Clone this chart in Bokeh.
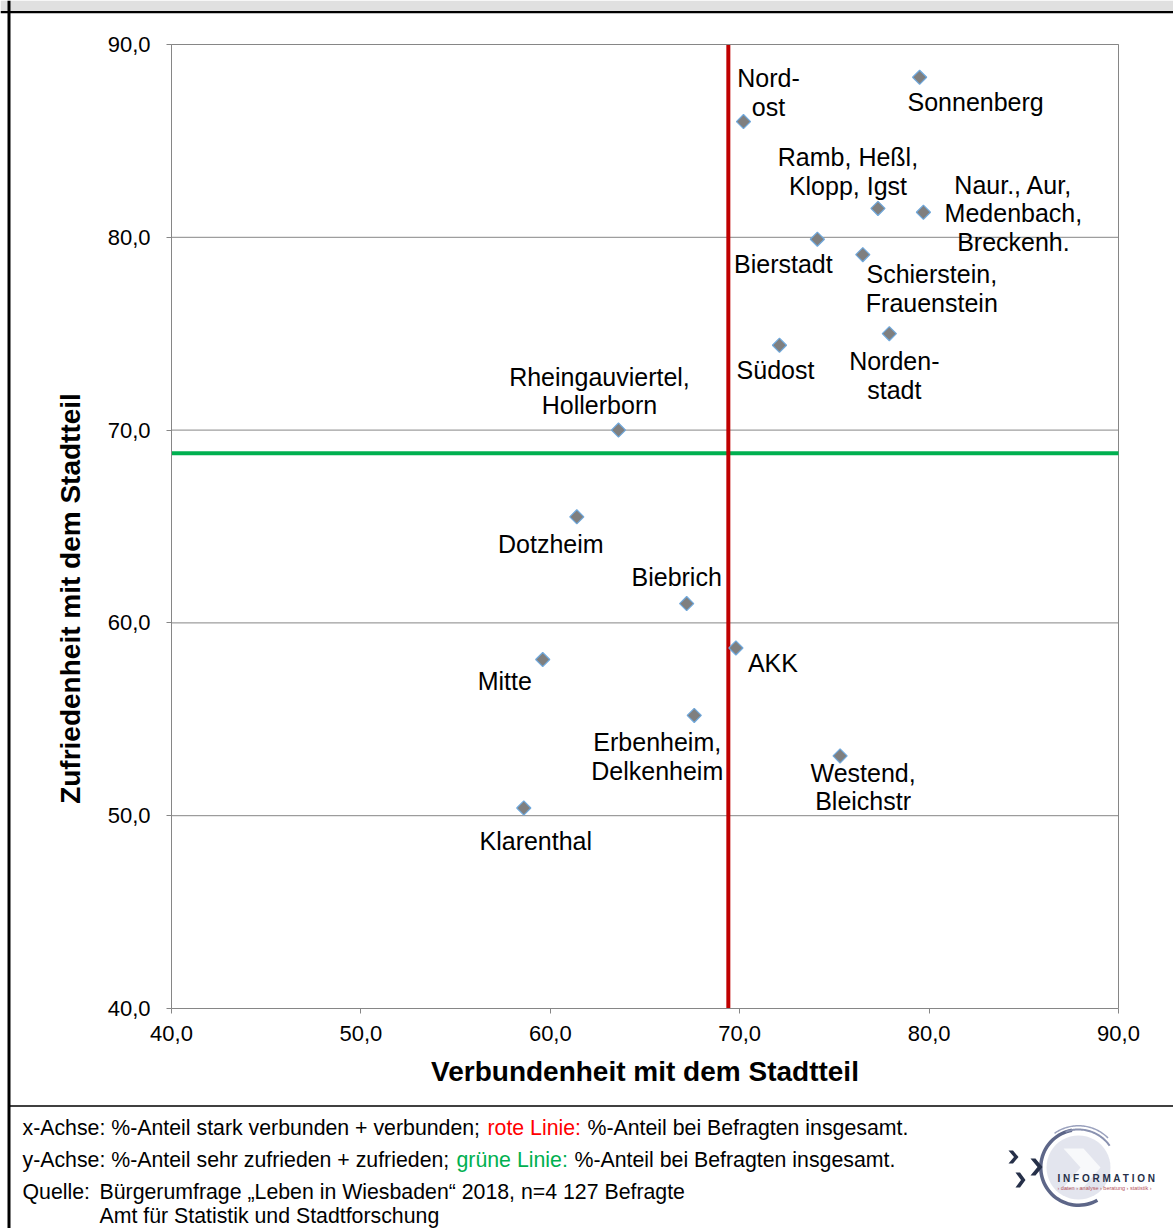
import math
from bokeh.plotting import figure
from bokeh.models import (Range1d, FixedTicker, CustomJSTickFormatter, ColumnDataSource, LinearAxis)
from bokeh.embed import file_html
from bokeh.resources import INLINE
from bokeh.core.properties import value

# ---------------- data ----------------
districts = [
    "Sonnenberg", "Nord-\nost", "Ramb, Heßl,\nKlopp, Igst", "Naur., Aur,\nMedenbach,\nBreckenh.",
    "Bierstadt", "Schierstein,\nFrauenstein", "Norden-\nstadt", "Südost",
    "Rheingauviertel,\nHollerborn", "Dotzheim", "Biebrich", "AKK", "Mitte",
    "Erbenheim,\nDelkenheim", "Westend,\nBleichstr", "Klarenthal",
]
verbundenheit = [79.5, 70.2, 77.3, 79.7, 74.1, 76.5, 77.9, 72.1, 63.6, 61.4, 67.2, 69.8, 59.6, 67.6, 75.3, 58.6]
zufriedenheit = [88.3, 86.0, 81.5, 81.3, 79.9, 79.1, 75.0, 74.4, 70.0, 65.5, 61.0, 58.7, 58.1, 55.2, 53.1, 50.4]
avg_verbundenheit = 69.4
avg_zufriedenheit = 68.8
axis_ticks = [40, 50, 60, 70, 80, 90]

# label placement (screen px offsets from the point; positive dy = down)
label_dx = [56, 25, -30, 90, -34, 69, 5, -4, -19, -26, -10, 37, -38, -37, 23, 12]
label_dy = [25, -29, -37, 1, 25, 34, 42, 25, -39, 27, -27, 15, 21, 41, 31, 33]

x_title = "Verbundenheit mit dem Stadtteil"
y_title = "Zufriedenheit mit dem Stadtteil"
note_x = ["x-Achse: %-Anteil stark verbunden + verbunden;", "rote Linie:", "%-Anteil bei Befragten insgesamt."]
note_y = ["y-Achse: %-Anteil sehr zufrieden + zufrieden;", "grüne Linie:", "%-Anteil bei Befragten insgesamt."]
source_lines = ["Quelle:", "Bürgerumfrage „Leben in Wiesbaden“ 2018, n=4 127 Befragte",
                "Amt für Statistik und Stadtforschung"]

FONT = "Liberation Sans"
W, H = 1173, 1228
FL, FR, FT, FB = 171, 1118, 44, 1008   # plot-area edges in page pixels
XMIN, XMAX, YMIN, YMAX = axis_ticks[0], axis_ticks[-1], axis_ticks[0], axis_ticks[-1]

# data ranges stretched so that 40..90 lands on the plot area while the frame fills the canvas
kx = (XMAX - XMIN) / (FR - FL)
ky = (YMAX - YMIN) / (FB - FT)
x_rng = Range1d(XMIN - FL * kx, XMAX + (W - FR) * kx)
y_rng = Range1d(YMIN - (H - FB) * ky, YMAX + FT * ky)

p = figure(width=W, height=H, x_range=x_rng, y_range=y_rng,
           toolbar_location=None, output_backend="svg", min_border=0,
           x_axis_type=None, y_axis_type=None)
p.extra_x_ranges = {"px": Range1d(0, W)}
p.extra_y_ranges = {"px": Range1d(H, 0)}
p.background_fill_color = "white"
p.border_fill_color = "white"
p.outline_line_color = None

GREY = "#868686"

# grid lines and plot-area outline (from tick values)
inner = axis_ticks[1:]
p.segment(x0=[XMIN] * len(inner), x1=[XMAX] * len(inner), y0=inner, y1=inner,
          line_color=GREY, line_width=1)
p.segment(x0=[XMAX], x1=[XMAX], y0=[YMIN], y1=[YMAX], line_color=GREY, line_width=1)

# average lines
p.segment(x0=[XMIN], x1=[XMAX], y0=[avg_zufriedenheit], y1=[avg_zufriedenheit],
          line_color="#00b050", line_width=4)
p.segment(x0=[avg_verbundenheit], x1=[avg_verbundenheit], y0=[YMIN], y1=[YMAX],
          line_color="#c00000", line_width=4)

fmt = CustomJSTickFormatter(code="return tick.toFixed(1).replace('.', ',');")

def style_axis(ax):
    ax.axis_line_color = GREY
    ax.axis_line_width = 1
    ax.major_tick_line_color = GREY
    ax.major_tick_in = 0
    ax.major_tick_out = 5
    ax.minor_tick_line_color = None
    ax.major_label_text_font = FONT
    ax.major_label_text_font_size = "22px"
    ax.major_label_text_color = "black"
    ax.axis_label_text_font = FONT
    ax.axis_label_text_font_size = "28px"
    ax.axis_label_text_font_style = "bold"
    ax.axis_label_text_color = "black"

xaxis = LinearAxis(fixed_location=YMIN, bounds=(XMIN, XMAX), ticker=FixedTicker(ticks=axis_ticks),
                   formatter=fmt, axis_label=x_title, major_label_standoff=12, axis_label_standoff=12)
style_axis(xaxis)
p.add_layout(xaxis, "below")

yaxis = LinearAxis(fixed_location=XMIN, bounds=(YMIN, YMAX), ticker=FixedTicker(ticks=axis_ticks),
                   formatter=fmt, major_label_standoff=16)
style_axis(yaxis)
p.add_layout(yaxis, "left")

topaxis = LinearAxis(fixed_location=YMAX, bounds=(XMIN, XMAX), ticker=FixedTicker(ticks=[]))
style_axis(topaxis)
p.add_layout(topaxis, "above")

# y-axis title
p.text(x=[70], y=[598], text=[y_title], angle=math.pi / 2, x_range_name="px", y_range_name="px",
       text_font=value(FONT), text_font_size="28px", text_font_style="bold", text_color="black",
       text_align="center", text_baseline="middle")

# points and labels
src = ColumnDataSource(dict(x=verbundenheit, y=zufriedenheit, name=districts, dx=label_dx, dy=label_dy))
p.scatter(x="x", y="y", source=src, marker="square", size=10, angle=0.7853981634,
          fill_color="#7f7f7f", line_color="#6fa8dc", line_width=1.2)
p.text(x="x", y="y", text="name", x_offset="dx", y_offset="dy", source=src,
       text_font=value(FONT), text_font_size="25px", text_color="black",
       text_align="center", text_baseline="middle", text_line_height=1.02)

# ---------------- page decorations (page pixel coordinates) ----------------
PX = dict(x_range_name="px", y_range_name="px")

p.quad(left=[0, 0, 7, 8], right=[W, W, 10, W], top=[0, 10.5, 0, 1104.8], bottom=[10.5, 12.8, H, 1106.3],
       fill_color=["#e0e0e0", "black", "black", "black"], line_color=None, **PX)

ft = dict(text_font=value(FONT), text_font_size="21.3px", text_baseline="middle", text_align="left", **PX)
p.text(x=[22, 487, 587], y=[1127] * 3, text=note_x, text_color=["black", "#ff0000", "black"], **ft)
p.text(x=[22, 456, 574], y=[1159] * 3, text=note_y, text_color=["black", "#00b050", "black"], **ft)
p.text(x=[22, 99, 99], y=[1191, 1191, 1215], text=source_lines, text_color="black", **ft)

# logo
CX, CY = 1078, 1167

def circ_pts(r, a0, a1, n=48):
    return [(CX + r * math.cos(math.radians(a0 + (a1 - a0) * i / n)),
             CY - r * math.sin(math.radians(a0 + (a1 - a0) * i / n))) for i in range(n + 1)]

def band(r0, r1, a0, a1):
    return circ_pts(r1, a0, a1) + circ_pts(r0, a1, a0)

def chevron(x0, y0, w, h, t):
    return [(x0, y0), (x0 + t, y0), (x0 + w, y0 + h / 2), (x0 + t, y0 + h), (x0, y0 + h), (x0 + w - t, y0 + h / 2)]

shapes = [
    (circ_pts(32, 0, 360), "#e3e5ee", 1.0),
    ([(1063, 1148), (1083, 1148), (1100, 1167), (1083, 1187), (1063, 1187), (1080, 1167)], "white", 0.75),
    (band(36, 39.5, 100, 300), "#5d6688", 1.0),
    (band(37, 39, 35, 110), "#8a92b0", 1.0),
    (band(41, 42.5, 45, 125), "#9aa1bd", 1.0),
    (chevron(1008, 1150, 10, 13, 4.5), "#263049", 1.0),
    (chevron(1030, 1158, 12, 17, 5), "#263049", 1.0),
    (chevron(1015, 1172, 10, 15, 4.5), "#263049", 1.0),
]
p.patches(xs=[[a for a, b in s[0]] for s in shapes], ys=[[b for a, b in s[0]] for s in shapes],
          fill_color=[s[1] for s in shapes], fill_alpha=[s[2] for s in shapes], line_color=None, **PX)
p.text(x=[1057], y=[1178], text=["I N F O R M A T I O N"], text_font=value(FONT), text_font_size="10px",
       text_font_style="bold", text_color="#263049", text_baseline="middle", text_align="left", **PX)
p.text(x=[1057], y=[1187], text=["› daten › analyse › beratung › statistik ›"], text_font=value(FONT),
       text_font_size="5.5px", text_color="#b5525a", text_baseline="middle", text_align="left", **PX)

open("out.html", "w").write(file_html(p, INLINE))
